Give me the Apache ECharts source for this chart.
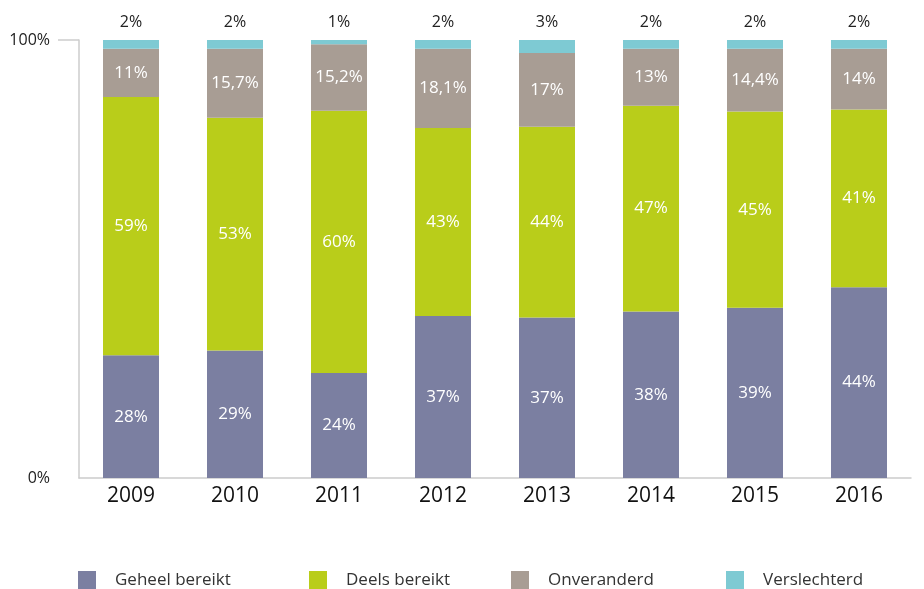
<!DOCTYPE html>
<html>
<head>
<meta charset="utf-8">
<script src="https://cdn.jsdelivr.net/npm/echarts@6/dist/echarts.min.js"></script>
<style>
  html, body { margin: 0; padding: 0; background: #fff; }
  #chart { width: 924px; height: 589px; }
</style>
</head>
<body>
<div id="chart"></div>
<script>
const years = ["2009", "2010", "2011", "2012", "2013", "2014", "2015", "2016"];
const geheel = [28, 29, 24, 37, 37, 38, 39, 44];
const deels = [59, 53, 60, 43, 44, 47, 45, 41];
const onveranderd = [11, 15.7, 15.2, 18.1, 17, 13, 14.4, 14];
const verslechterd = [2, 2, 1, 2, 3, 2, 2, 2];
const yTicks = ["0%", "100%"];

const names = ["Geheel bereikt", "Deels bereikt", "Onveranderd", "Verslechterd"];
const colors = ["#7b7fa1", "#b9cd1a", "#a89d94", "#7ecad3"];
const raw = [geheel, deels, onveranderd, verslechterd];

// bars are drawn as share of the year total so every bar ends at 100%
const totals = years.map((_, i) => raw.reduce((s, arr) => s + arr[i], 0));
const fmt = v => String(v).replace(".", ",") + "%";

const font = "'Open Sans', 'Noto Sans', sans-serif";

const series = raw.map((arr, k) => ({
  name: names[k],
  type: "bar",
  stack: "total",
  barWidth: 56,
  itemStyle: { color: colors[k] },
  data: arr.map((v, i) => v / totals[i] * 100),
  label: {
    show: true,
    position: k === 3 ? "top" : "inside",
    distance: 10,
    color: k === 3 ? "#222" : "#fff",
    fontFamily: font,
    fontSize: k === 3 ? 16 : 17,
    formatter: p => fmt(arr[p.dataIndex])
  }
}));

const legendLefts = [78, 309, 511, 726];
const legends = names.map((n, k) => ({
  data: [n],
  left: legendLefts[k],
  top: 571,
  padding: 0,
  itemWidth: 18,
  itemHeight: 18,
  itemGap: 0,
  icon: "rect",
  selectedMode: false,
  textStyle: { fontFamily: font, fontSize: 17, color: "#333", padding: [0, 0, 0, 14] }
}));

const chart = echarts.init(document.getElementById("chart"));
chart.setOption({
  animation: false,
  backgroundColor: "#fff",
  legend: legends,
  grid: { left: 79, right: 13, top: 40, bottom: 111 },
  xAxis: {
    type: "category",
    data: years,
    axisLine: { lineStyle: { color: "#cccccc", width: 1.5 } },
    axisTick: { length: 20, lineStyle: { color: "#cccccc", width: 1.5 } },
    axisLabel: { fontFamily: font, fontSize: 21, color: "#111", margin: 8 }
  },
  yAxis: {
    type: "value",
    min: 0,
    max: 100,
    interval: 100,
    splitLine: { show: false },
    axisLine: { show: true, lineStyle: { color: "#cccccc", width: 1.5 } },
    axisTick: { show: true, customValues: [100], length: 21, lineStyle: { color: "#cccccc", width: 1.5 } },
    axisLabel: {
      fontFamily: font, fontSize: 16, color: "#222", margin: 29,
      formatter: v => v === 0 ? yTicks[0] : yTicks[1]
    }
  },
  series: series
});
</script>
</body>
</html>
